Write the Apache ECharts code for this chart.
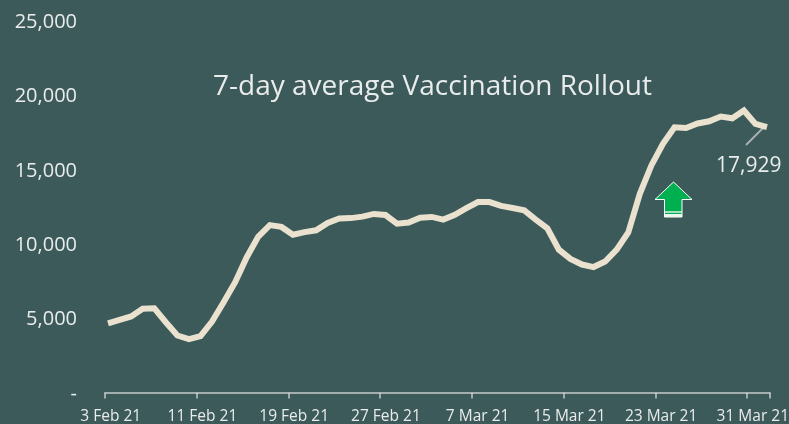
<!DOCTYPE html>
<html><head><meta charset="utf-8">
<style>html,body{margin:0;padding:0;background:#3c5a59}#c{width:789px;height:424px}</style>
<script src="https://cdn.jsdelivr.net/npm/echarts@6/dist/echarts.min.js"></script>
</head><body><div id="c"></div>
<script>
const dates = ['3 Feb 21','4 Feb 21','5 Feb 21','6 Feb 21','7 Feb 21','8 Feb 21','9 Feb 21','10 Feb 21','11 Feb 21','12 Feb 21','13 Feb 21','14 Feb 21','15 Feb 21','16 Feb 21','17 Feb 21','18 Feb 21','19 Feb 21','20 Feb 21','21 Feb 21','22 Feb 21','23 Feb 21','24 Feb 21','25 Feb 21','26 Feb 21','27 Feb 21','28 Feb 21','1 Mar 21','2 Mar 21','3 Mar 21','4 Mar 21','5 Mar 21','6 Mar 21','7 Mar 21','8 Mar 21','9 Mar 21','10 Mar 21','11 Mar 21','12 Mar 21','13 Mar 21','14 Mar 21','15 Mar 21','16 Mar 21','17 Mar 21','18 Mar 21','19 Mar 21','20 Mar 21','21 Mar 21','22 Mar 21','23 Mar 21','24 Mar 21','25 Mar 21','26 Mar 21','27 Mar 21','28 Mar 21','29 Mar 21','30 Mar 21','31 Mar 21','1 Apr 21'];
// 7-day average
const avg = [4750,4985,5208,5725,5766,4825,3931,3685,3885,4872,6170,7513,9194,10585,11350,11230,10700,10880,11000,11500,
 11800,11820,11920,12100,12030,11450,11520,11850,11900,11720,12040,12485,12900,12900,12640,12500,12340,11725,11140,9700,
 9080,8700,8530,8900,9700,10850,13450,15360,16815,17920,17880,18180,18330,18650,18530,19050,18150,17929];
const callout = '17,929';
const titleText = '7-day average Vaccination Rollout';

const chart = echarts.init(document.getElementById('c'), null, {renderer:'canvas'});
const font = '"Open Sans"';
const ink = '#e9ecec';
chart.setOption({
  backgroundColor:'#3c5a59',
  animation:false,
  title:{text:titleText,left:213,top:70,itemGap:0,padding:[3,0,0,0],textStyle:{color:ink,fontFamily:font,fontSize:28,fontWeight:400}},
  grid:{left:105,right:19,top:22,bottom:30,containLabel:false,outerBoundsMode:'none'},
  xAxis:[{
    type:'category',data:dates,boundaryGap:true,offset:-1.5,
    axisLine:{show:true,lineStyle:{color:'#c4caca',width:1.5}},
    axisTick:{show:true,alignWithLabel:false,interval:7,length:6,lineStyle:{color:'#c4caca',width:1.5}},
    axisLabel:{show:true,interval:7,color:ink,fontFamily:font,fontSize:15.5,margin:16}
  },{
    type:'value',show:false,min:-0.26,max:57.26
  }],
  yAxis:{
    type:'value',min:0,max:25000,interval:5000,
    axisLine:{show:false},axisTick:{show:false},splitLine:{show:false},
    axisLabel:{color:ink,fontFamily:font,fontSize:20,margin:28,
      formatter:v=>v===0?'-':v.toLocaleString('en-US')}
  },
  series:[{
    type:'line',xAxisIndex:1,yAxisIndex:0,
    data:avg.map((v,i)=>[i,v]),
    showSymbol:false,smooth:false,
    lineStyle:{color:'#eae2cf',width:6,cap:'butt',join:'miter'}
  }],
  graphic:[
    {type:'line',shape:{x1:746,y1:145,x2:766,y2:125},style:{stroke:'#a8afaf',lineWidth:2}},
    {type:'text',x:716,y:156,style:{text:callout,fill:ink,font:'21px "Open Sans"'}},
    {type:'polygon',shape:{points:[[673.5,182],[692,199.5],[682,199.5],[682,217],[664.5,217],[664.5,199.5],[655,199.5]]},
      style:{fill:'#00b050',stroke:'#ffffff',lineWidth:1}},
    {type:'line',shape:{x1:665,y1:212,x2:682,y2:212},style:{stroke:'#d9f2e3',lineWidth:1.5}},
    {type:'line',shape:{x1:665,y1:215.5,x2:682,y2:215.5},style:{stroke:'#eef5ee',lineWidth:3}}
  ]
});
</script></body></html>
